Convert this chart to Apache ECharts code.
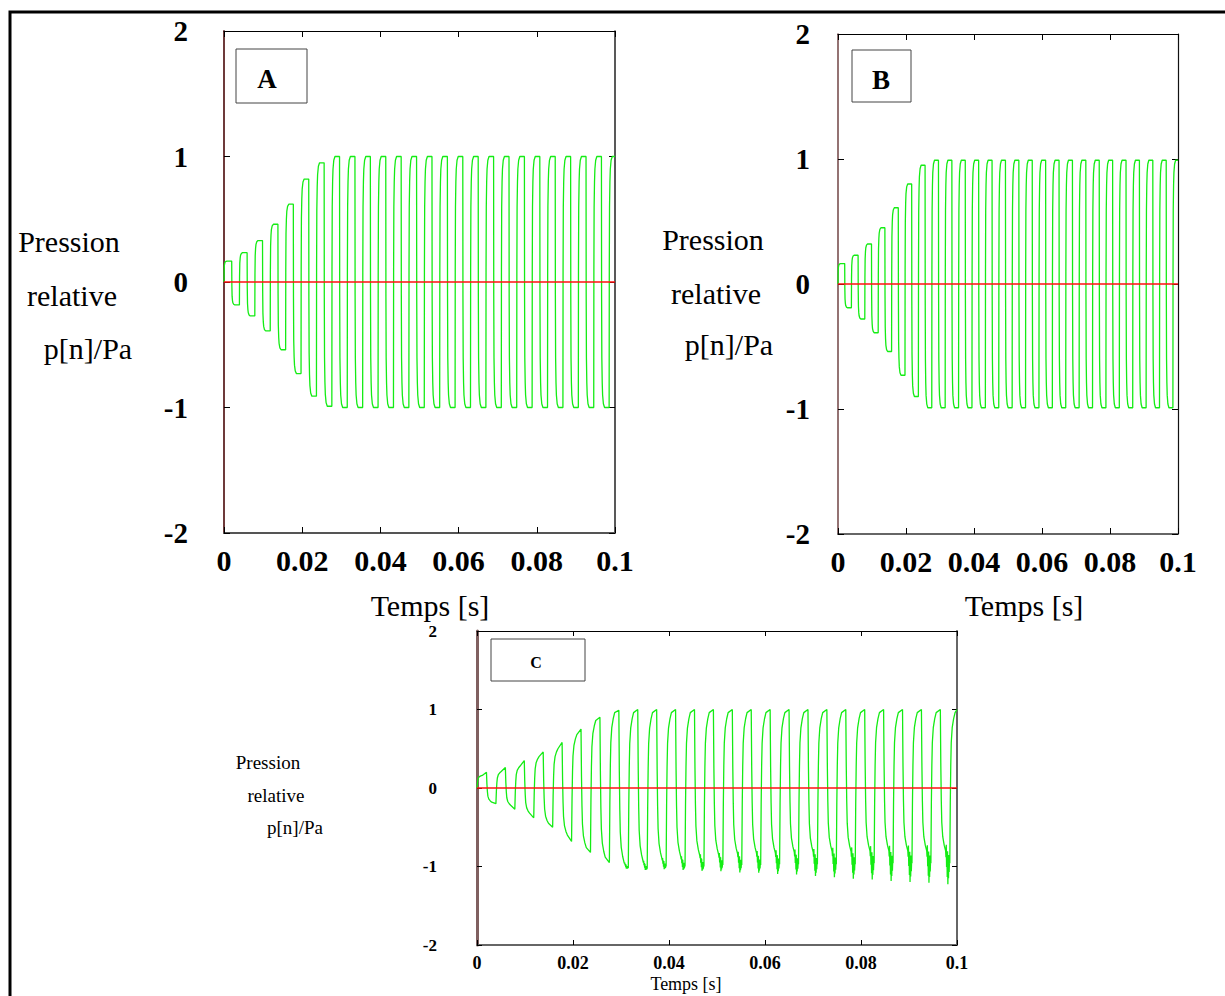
<!DOCTYPE html>
<html><head><meta charset="utf-8">
<script src="https://cdn.jsdelivr.net/npm/echarts@6/dist/echarts.min.js"></script>
<style>html,body{margin:0;padding:0;background:#fff}#c{width:1225px;height:996px}</style>
</head><body><div id="c"></div>
<script>
// ---- data ----
const xTicks = [0, 0.02, 0.04, 0.06, 0.08, 0.1];
const yTicks = [-2, -1, 0, 1, 2];
// start time (s) of each half-cycle of the square wave
const switchTimes = [0, 0.00197, 0.00394, 0.00591, 0.00788, 0.00985, 0.01182, 0.01379, 0.01576, 0.01773,
  0.0197, 0.02167, 0.02364, 0.02561, 0.02758, 0.02955, 0.03152, 0.03349, 0.03546, 0.03743,
  0.0394, 0.04137, 0.04334, 0.04531, 0.04728, 0.04925, 0.05122, 0.05319, 0.05516, 0.05713,
  0.0591, 0.06107, 0.06304, 0.06501, 0.06698, 0.06895, 0.07092, 0.07289, 0.07486, 0.07683,
  0.0788, 0.08077, 0.08274, 0.08471, 0.08668, 0.08865, 0.09062, 0.09259, 0.09456, 0.09653, 0.0985];
// plateau level of each half-cycle, panel A
const levelsA = [0.167, -0.183, 0.234, -0.27, 0.33, -0.39, 0.46, -0.54, 0.62, -0.73,
  0.82, -0.91, 0.95, -0.99, 1.0, -1.0, 1.0, -1.0, 1.0, -1.0,
  1.0, -1.0, 1.0, -1.0, 1.0, -1.0, 1.0, -1.0, 1.0, -1.0,
  1.0, -1.0, 1.0, -1.0, 1.0, -1.0, 1.0, -1.0, 1.0, -1.0,
  1.0, -1.0, 1.0, -1.0, 1.0, -1.0, 1.0, -1.0, 1.0, -1.0, 1.0];
// panel B
const levelsB = [0.163, -0.19, 0.23, -0.28, 0.32, -0.39, 0.45, -0.54, 0.61, -0.73,
  0.80, -0.90, 0.95, -0.99, 0.99, -0.99, 0.99, -0.99, 0.99, -0.99,
  0.99, -0.99, 0.99, -0.99, 0.99, -0.99, 0.99, -0.99, 0.99, -0.99,
  0.99, -0.99, 0.99, -0.99, 0.99, -0.99, 0.99, -0.99, 0.99, -0.99,
  0.99, -0.99, 0.99, -0.99, 0.99, -0.99, 0.99, -0.99, 0.99, -0.99, 0.99];
// panel C: level at start and at end of each half-cycle, and ripple depth
const levelsCStart = [0.16, -0.18, 0.21, -0.22, 0.28, -0.32, 0.40, -0.45, 0.50, -0.60,
  0.68, -0.76, 0.86, -0.88, 0.96, -0.95, 0.96, -0.93, 0.96, -0.90,
  0.96, -0.88, 0.96, -0.86, 0.96, -0.85, 0.96, -0.84, 0.96, -0.83,
  0.96, -0.83, 0.96, -0.82, 0.96, -0.82, 0.96, -0.81, 0.96, -0.81,
  0.96, -0.80, 0.96, -0.80, 0.96, -0.80, 0.96, -0.80, 0.96, -0.80, 0.96];
const levelsCEnd = [0.20, -0.20, 0.26, -0.27, 0.35, -0.38, 0.46, -0.50, 0.58, -0.68,
  0.75, -0.82, 0.90, -0.95, 0.99, -1.02, 1.0, -1.03, 1.0, -1.0,
  1.0, -1.0, 1.0, -1.0, 1.0, -0.98, 1.0, -0.98, 1.0, -0.98,
  1.0, -0.97, 1.0, -0.97, 1.0, -0.97, 1.0, -0.97, 1.0, -0.97,
  1.0, -0.96, 1.0, -0.96, 1.0, -0.96, 1.0, -0.96, 1.0, -0.96, 1.0];
const rippleC = [0, 0, 0, 0, 0, 0, 0, 0, 0, 0,
  0, 0, 0, 0, 0, 0.04, 0, 0.06, 0, 0.08,
  0, 0.10, 0, 0.12, 0, 0.14, 0, 0.16, 0, 0.17,
  0, 0.19, 0, 0.20, 0, 0.22, 0, 0.24, 0, 0.26,
  0, 0.28, 0, 0.30, 0, 0.31, 0, 0.32, 0, 0.34, 0];
// shape of the noise on the low plateaus of C (fraction of ripple depth)
const rippleShape = [-0.2, 0.3, -0.5, 0.1, -0.8, 0.2, -1.0, -0.1, -0.7, 0.2, -0.4, 0.1];
// step response shape after each switch: time offset (s) and fraction reached
const edgeT = [0, 0.00004, 0.0001, 0.0002, 0.0003, 0.0005, 0.0008];
const edgeF = [0, 0.55, 0.8, 0.9, 0.95, 0.985, 1];
const edgeTC = [0, 0.0001, 0.0002, 0.0003, 0.0005, 0.0008, 0.0011];
const edgeFC = [0, 0.4, 0.65, 0.8, 0.9, 0.96, 1];
const zeroLine = [[0, 0], [0.1, 0]];

function buildWave(starts, ends, ripple, eT, eF) {
  const pts = [[0, 0]];
  let prev = 0;
  for (let i = 0; i < starts.length; i++) {
    const t0 = switchTimes[i];
    const t1 = i + 1 < switchTimes.length ? switchTimes[i + 1] : 0.1;
    const target = starts[i];
    for (let k = 1; k < eT.length; k++) pts.push([t0 + eT[k], prev + (target - prev) * eF[k]]);
    const tA = t0 + eT[eT.length - 1];
    const end = ends[i];
    if (ripple && ripple[i]) {
      const n = rippleShape.length;
      for (let k = 0; k < n; k++) {
        const f = (k + 1) / (n + 1);
        pts.push([tA + (t1 - tA) * f, target + (end - target) * f + rippleShape[k] * ripple[i]]);
      }
    }
    pts.push([t1, end]);
    prev = end;
  }
  return pts;
}

const waveA = buildWave(levelsA, levelsA, null, edgeT, edgeF);
const waveB = buildWave(levelsB, levelsB, null, edgeT, edgeF);
const waveC = buildWave(levelsCStart, levelsCEnd, rippleC, edgeTC, edgeFC);

const SERIF = 'Liberation Serif';
const panels = [
  {grid: {left: 224, top: 31, width: 391, height: 502}, xfs: 30, yfs: 29, yMargin: 36, xMargin: 12,
   leftC: '#6e3a3a', leftW: 2, botC: '#555', botW: 2, rightC: '#222', rightW: 1.5, topC: '#000', tick: 6},
  {grid: {left: 838, top: 34, width: 340, height: 500}, xfs: 30, yfs: 29, yMargin: 28, xMargin: 12,
   leftC: '#704444', leftW: 1.5, botC: '#666', botW: 2, rightC: '#111', rightW: 1.2, topC: '#000', tick: 6},
  {grid: {left: 477, top: 631, width: 480, height: 314}, xfs: 18, yfs: 17, yMargin: 40, xMargin: 9,
   leftC: '#806060', leftW: 3, botC: '#666', botW: 2, rightC: '#666', rightW: 2, topC: '#000', tick: 5}
];
const waves = [waveA, waveB, waveC];

const grid = [], xAxis = [], yAxis = [], series = [];
panels.forEach((p, i) => {
  grid.push(Object.assign({containLabel: false}, p.grid));
  const lbl = {fontFamily: SERIF, fontWeight: 'bold', color: '#000'};
  xAxis.push({type: 'value', gridIndex: i, min: 0, max: 0.1, interval: 0.02, position: 'bottom',
    axisLine: {show: true, onZero: false, lineStyle: {color: p.botC, width: p.botW}},
    axisTick: {show: true, inside: true, length: p.tick, lineStyle: {color: '#000'}},
    axisLabel: Object.assign({margin: p.xMargin, fontSize: p.xfs, formatter: v => String(+v.toFixed(2))}, lbl),
    splitLine: {show: false}});
  xAxis.push({type: 'value', gridIndex: i, min: 0, max: 0.1, interval: 0.02, position: 'top',
    axisLine: {show: true, onZero: false, lineStyle: {color: p.topC, width: 1}},
    axisTick: {show: true, inside: true, length: p.tick, lineStyle: {color: '#000'}},
    axisLabel: {show: false}, splitLine: {show: false}});
  yAxis.push({type: 'value', gridIndex: i, min: -2, max: 2, interval: 1, position: 'left',
    axisLine: {show: true, onZero: false, lineStyle: {color: p.leftC, width: p.leftW}},
    axisTick: {show: true, inside: true, length: p.tick, lineStyle: {color: '#000'}},
    axisLabel: Object.assign({margin: p.yMargin, fontSize: p.yfs}, lbl), splitLine: {show: false}});
  yAxis.push({type: 'value', gridIndex: i, min: -2, max: 2, interval: 1, position: 'right',
    axisLine: {show: true, onZero: false, lineStyle: {color: p.rightC, width: p.rightW}},
    axisTick: {show: true, inside: true, length: p.tick, lineStyle: {color: '#000'}},
    axisLabel: {show: false}, splitLine: {show: false}});
  series.push({type: 'line', xAxisIndex: 2 * i, yAxisIndex: 2 * i, data: waves[i], showSymbol: false,
    symbol: 'none', animation: false, lineStyle: {color: '#14ec14', width: 1.3}, z: 2});
  series.push({type: 'line', xAxisIndex: 2 * i, yAxisIndex: 2 * i, data: zeroLine, showSymbol: false,
    symbol: 'none', animation: false, lineStyle: {color: '#ff1010', width: 1.5}, z: 3});
});

function txt(x, y, s, size, bold, align) {
  return {type: 'text', x: x, y: y, style: {text: s, fontFamily: SERIF, fontSize: size,
    fontWeight: bold ? 'bold' : 'normal', fill: '#000', textAlign: align || 'center', textVerticalAlign: 'middle'}};
}
function box(x, y, w, h) {
  return {type: 'rect', shape: {x: x, y: y, width: w, height: h}, style: {fill: '#fff', stroke: '#444', lineWidth: 1}, z: 10};
}
const graphic = [
  {type: 'rect', shape: {x: 10, y: 12, width: 1240, height: 1010}, style: {fill: 'none', stroke: '#000', lineWidth: 3}, silent: true},
  box(236, 49, 71, 54), Object.assign(txt(267, 79, 'A', 27, true), {z: 11}),
  box(852, 50, 59, 52), Object.assign(txt(881, 80, 'B', 27, true), {z: 11}),
  box(491, 639, 94, 42), Object.assign(txt(536, 662, 'C', 16, true), {z: 11}),
  txt(69, 241, 'Pression', 30), txt(72, 295, 'relative', 30), txt(88, 348, 'p[n]/Pa', 30),
  txt(430, 605, 'Temps [s]', 30),
  txt(713, 239, 'Pression', 30), txt(716, 293, 'relative', 30), txt(729, 344, 'p[n]/Pa', 30),
  txt(1024, 605, 'Temps [s]', 30),
  txt(268, 762, 'Pression', 19), txt(276, 795, 'relative', 19), txt(295, 827, 'p[n]/Pa', 19),
  txt(686, 984, 'Temps [s]', 18)
];

const chart = echarts.init(document.getElementById('c'), null, {renderer: 'svg'});
chart.setOption({animation: false, backgroundColor: '#fff', grid, xAxis, yAxis, series, graphic});
</script></body></html>
